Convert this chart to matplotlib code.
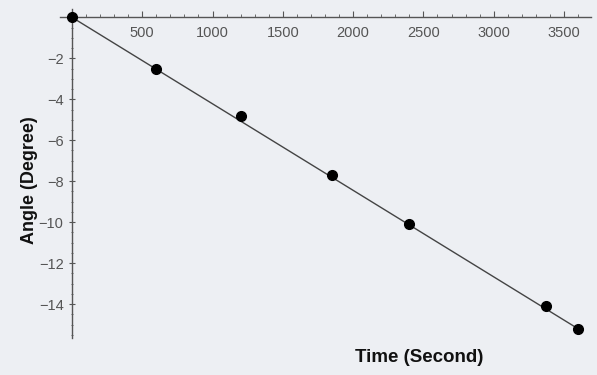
import matplotlib
matplotlib.use("Agg")
import matplotlib.pyplot as plt
from matplotlib.ticker import MultipleLocator

# measured points
time_s = [0, 600, 1200, 1850, 2400, 3370, 3600]
angle_deg = [0, -2.5, -4.8, -7.7, -10.1, -14.1, -15.2]

# linear fit drawn through the data
fit_time = [0, 3600]
fit_angle = [0, -15.2]

x_ticks = [500, 1000, 1500, 2000, 2500, 3000, 3500]
y_ticks = [-2, -4, -6, -8, -10, -12, -14]

bg = "#edeff3"
fig = plt.figure(figsize=(5.97, 3.75), dpi=100, facecolor=bg)
ax = fig.add_axes([0.1005, 0.0987, 0.889, 0.877])
ax.set_facecolor(bg)

ax.plot(fit_time, fit_angle, color="#444444", lw=1.0, zorder=2)
ax.plot(time_s, angle_deg, "o", color="black", ms=7, zorder=3, clip_on=False)

ax.set_xlim(-85, 3690)
ax.set_ylim(-15.65, 0.4)

for s in ["top", "right"]:
    ax.spines[s].set_visible(False)
ax.spines["left"].set_position(("data", 0))
ax.spines["bottom"].set_position(("data", 0))
for s in ["left", "bottom"]:
    ax.spines[s].set_color("#555555")
    ax.spines[s].set_linewidth(1.0)

ax.set_xticks(x_ticks)
ax.set_yticks(y_ticks)
ax.xaxis.set_minor_locator(MultipleLocator(100))
ax.yaxis.set_minor_locator(MultipleLocator(0.5))
ax.tick_params(axis="x", which="major", direction="in", length=4, width=0.8,
               colors="#555555", labelsize=10.5, pad=6)
ax.tick_params(axis="x", which="minor", direction="in", length=2, width=0.6, color="#555555")
ax.tick_params(axis="y", which="major", direction="inout", length=4, width=0.8,
               colors="#555555", labelsize=10.5, pad=4)
ax.tick_params(axis="y", which="minor", direction="inout", length=2, width=0.6, color="#555555")
for lab in ax.get_xticklabels() + ax.get_yticklabels():
    lab.set_family("Liberation Sans")

fig.text(0.702, 0.048, "Time (Second)", ha="center", va="center",
         fontsize=13.5, fontweight="bold", family="Liberation Sans", color="#111111")
fig.text(0.05, 0.52, "Angle (Degree)", ha="center", va="center", rotation=90,
         fontsize=13, fontweight="bold", family="Liberation Sans", color="#111111")

fig.savefig("out.png", dpi=100, facecolor=bg)
